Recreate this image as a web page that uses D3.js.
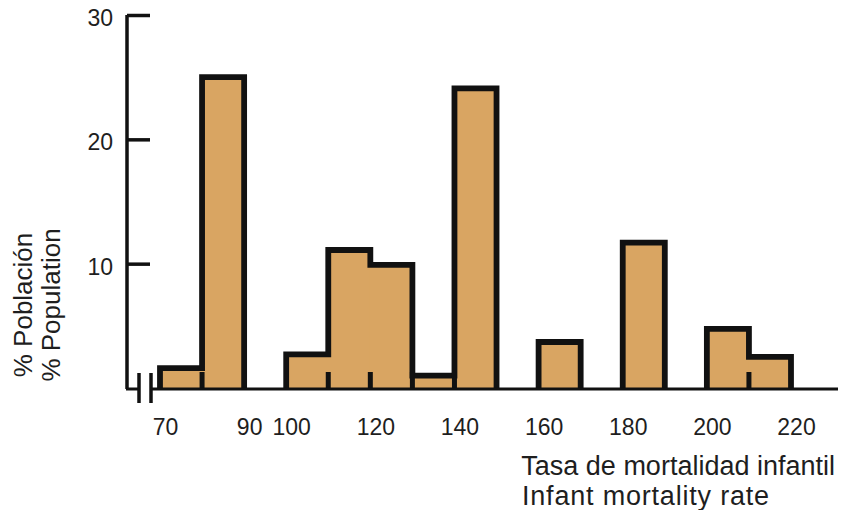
<!DOCTYPE html>
<html>
<head>
<meta charset="utf-8">
<script src="https://cdn.jsdelivr.net/npm/d3@7"></script>
<style>
  html, body { margin: 0; padding: 0; background: #ffffff; }
  svg { display: block; }
  text { font-family: "Liberation Sans", Arial, sans-serif; fill: #1e1e1e; }
</style>
</head>
<body>
<svg id="chart" width="854" height="510"></svg>
<script>
// ---- data ----
const binStarts = [70, 80, 100, 110, 120, 130, 140, 160, 180, 200, 210];
const binEnds   = [80, 90, 110, 120, 130, 140, 150, 170, 190, 210, 220];
const values    = [1.6, 25.0, 2.7, 11.1, 9.9, 1.0, 24.1, 3.7, 11.7, 4.75, 2.5];
const xTickValues = [70, 90, 100, 120, 140, 160, 180, 200, 220];
const yTickValues = [10, 20, 30];
const yTitleLines = ["% Población", "% Population"];
const xTitleLines = ["Tasa de mortalidad infantil", "Infant mortality rate"];

const svg = d3.select("#chart");
const x = d3.scaleLinear().domain([70, 220]).range([160, 791]);
const y = d3.scaleLinear().domain([0, 30]).range([388, 15]);

const fill = "#d9a562";
const ink = "#111";

const bars = binStarts.map((s, i) => ({ s, e: binEnds[i], v: values[i] }));

// filled bars (slight overlap to avoid seams between adjacent bins)
svg.append("g").selectAll("rect").data(bars).join("rect")
  .attr("x", d => x(d.s) - 0.5)
  .attr("y", d => y(d.v))
  .attr("width", d => x(d.e) - x(d.s) + 1)
  .attr("height", d => y(0) - y(d.v))
  .attr("fill", fill);

// group contiguous bars for the stepped outline
const groups = [];
bars.forEach(b => {
  const g = groups[groups.length - 1];
  if (g && g[g.length - 1].e === b.s) g.push(b); else groups.push([b]);
});
const line = d3.line().x(p => x(p[0])).y(p => y(p[1]));
groups.forEach(g => {
  const pts = [[g[0].s, 0]];
  g.forEach(b => { pts.push([b.s, b.v]); pts.push([b.e, b.v]); });
  pts.push([g[g.length - 1].e, 0]);
  svg.append("path").attr("d", line(pts))
    .attr("fill", "none").attr("stroke", ink)
    .attr("stroke-width", 5.8).attr("stroke-linejoin", "miter");
  // small internal ticks at inner bin boundaries
  for (let i = 1; i < g.length; i++) {
    svg.append("line")
      .attr("x1", x(g[i].s)).attr("x2", x(g[i].s))
      .attr("y1", y(0) - 16).attr("y2", y(0))
      .attr("stroke", ink).attr("stroke-width", 5);
  }
});

// y axis (ticks pointing inward)
const yAxis = d3.axisRight(y).tickValues(yTickValues).tickSize(23).tickFormat("");
const yg = svg.append("g").attr("transform", "translate(127,0)").call(yAxis);
yg.select(".domain").remove();
yg.selectAll(".tick line").attr("stroke", ink).attr("stroke-width", 3.5);
svg.append("path")
  .attr("d", `M127,${y(0) + 1}V${y(30)}`)
  .attr("stroke", ink).attr("stroke-width", 3.5).attr("fill", "none");

// y tick labels
const yl = d3.axisLeft(y).tickValues(yTickValues).tickSize(0).tickPadding(0);
const ylg = svg.append("g").attr("transform", "translate(113,3)").call(yl);
ylg.select(".domain").remove();
ylg.selectAll("text").attr("font-size", 23).attr("font-family", "Liberation Sans, Arial, sans-serif").attr("fill", "#1e1e1e");

// baseline with axis break
const by = y(0) + 1;
svg.append("line").attr("x1", 126).attr("x2", 139).attr("y1", by).attr("y2", by)
  .attr("stroke", ink).attr("stroke-width", 3);
svg.append("line").attr("x1", 151).attr("x2", 838).attr("y1", by).attr("y2", by)
  .attr("stroke", ink).attr("stroke-width", 3);
[139, 151].forEach(bx => {
  svg.append("line").attr("x1", bx).attr("x2", bx).attr("y1", 373).attr("y2", 403)
    .attr("stroke", ink).attr("stroke-width", 3.5);
});

// x tick labels
const xa = d3.axisBottom(x).tickValues(xTickValues).tickSize(0).tickPadding(0).tickFormat(d3.format("d"));
const xg = svg.append("g").attr("transform", "translate(5,435)").call(xa);
xg.select(".domain").remove();
xg.selectAll("text").attr("dy", 0).attr("font-size", 23)
  .attr("font-family", "Liberation Sans, Arial, sans-serif").attr("fill", "#1e1e1e");

// x title
svg.append("text").attr("x", 835).attr("y", 475).attr("text-anchor", "end")
  .attr("font-size", 27).text(xTitleLines[0]);
svg.append("text").attr("x", 522).attr("y", 505).attr("text-anchor", "start")
  .attr("font-size", 27).attr("letter-spacing", 0.8).text(xTitleLines[1]);

// y title (rotated)
[[23, yTitleLines[0]], [51, yTitleLines[1]]].forEach(([cx, t]) => {
  svg.append("text")
    .attr("transform", `translate(${cx},305) rotate(-90)`)
    .attr("text-anchor", "middle").attr("dy", "0.35em")
    .attr("font-size", 26).text(t);
});
</script>
</body>
</html>
